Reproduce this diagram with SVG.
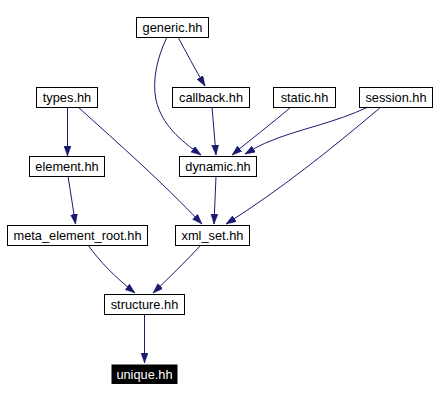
<svg xmlns="http://www.w3.org/2000/svg" width="436" height="401" viewBox="0 0 436 401">
<style>
.n rect{fill:#fff;stroke:#000;stroke-width:1}
.n text{font-family:"Liberation Sans",Arial,sans-serif;font-size:12.8px;text-anchor:middle;fill:#000}
.n.hl rect{fill:#000}
.n.hl text{fill:#fff}
.e path{fill:none;stroke:#191970;stroke-width:1;marker-end:url(#ah)}
</style>
<defs>
<marker id="ah" markerUnits="userSpaceOnUse" markerWidth="11" markerHeight="8" refX="10" refY="3.5" orient="auto">
<path d="M0,0 L10,3.5 L0,7 z" fill="#191970" stroke="#191970" stroke-width="0.5"/>
</marker>
</defs>
<rect width="436" height="401" fill="#fff"/>
<g id="edges" class="e">
<path d="M178,37 C186,52 195,69 205,86"/>
<path d="M167,37 C157,58 152,80 156,100 C162,125 180,140 201,155"/>
<path d="M67.5,107 L67.5,156"/>
<path d="M78,107 C120,145 160,180 202,224"/>
<path d="M212,107 L216,155"/>
<path d="M291,107 C270,125 250,140 232,155"/>
<path d="M368,107 C335,123 295,130 268,142 C258,146 252,150 245,154"/>
<path d="M381,107 C330,150 280,190 226,224"/>
<path d="M216,176 L214,224"/>
<path d="M68,176 L75.5,224"/>
<path d="M88,245 C100,262 115,277 135,293"/>
<path d="M201,245 C185,262 170,277 153,293"/>
<path d="M144.5,314 L144.5,363"/>
</g>
<g id="generic" class="n"><rect x="136.5" y="17.5" width="72" height="20"/><text x="172.5" y="32">generic.hh</text></g>
<g id="types" class="n"><rect x="36.5" y="87.5" width="61" height="20"/><text x="67" y="102">types.hh</text></g>
<g id="callback" class="n"><rect x="172.5" y="87.5" width="77" height="20"/><text x="211" y="102">callback.hh</text></g>
<g id="static" class="n"><rect x="273.5" y="87.5" width="62" height="20"/><text x="304.5" y="102">static.hh</text></g>
<g id="session" class="n"><rect x="359.5" y="87.5" width="73" height="20"/><text x="396" y="102">session.hh</text></g>
<g id="element" class="n"><rect x="29.5" y="156.5" width="75" height="20"/><text x="67" y="171">element.hh</text></g>
<g id="dynamic" class="n"><rect x="179.5" y="156.5" width="77" height="20"/><text x="218" y="171">dynamic.hh</text></g>
<g id="meta_element_root" class="n"><rect x="7.5" y="225.5" width="140" height="20"/><text x="77.5" y="240">meta_element_root.hh</text></g>
<g id="xml_set" class="n"><rect x="175.5" y="225.5" width="74" height="20"/><text x="212.5" y="240">xml_set.hh</text></g>
<g id="structure" class="n"><rect x="104.5" y="294.5" width="80" height="20"/><text x="144.5" y="309">structure.hh</text></g>
<g id="unique" class="n hl"><rect x="112" y="365" width="65" height="18.5"/><text x="144.5" y="379">unique.hh</text></g>
</svg>
